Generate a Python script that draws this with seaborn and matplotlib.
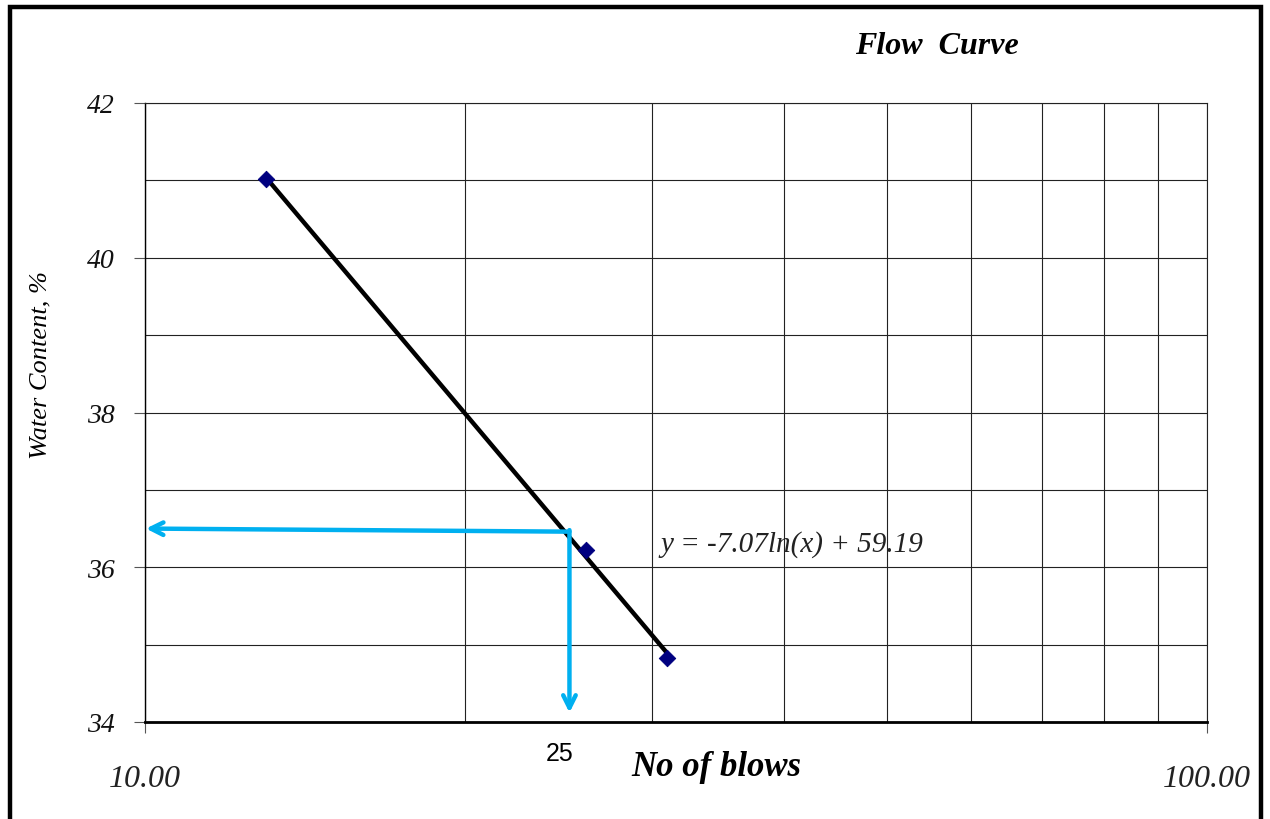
import numpy as np
import pandas as pd
import matplotlib
matplotlib.use("Agg")
import matplotlib.pyplot as plt
from matplotlib.ticker import FixedLocator, FuncFormatter, NullFormatter
from matplotlib.patches import Rectangle
import seaborn as sns

# ---- data ----
blows = [13.0, 26.0, 31.0]
water_content = [41.02, 36.22, 34.83]
x_major_ticks = [10, 100]
x_minor_ticks = [20, 30, 40, 50, 60, 70, 80, 90]
y_major_ticks = [34, 36, 38, 40, 42]
y_minor_ticks = [35, 37, 39, 41]
target_blows = 25
liquid_limit = 36.46
equation_text = "y = -7.07ln(x) + 59.19"

sns.set_style("white")
plt.rcParams['font.family'] = ['Liberation Serif', 'DejaVu Serif']
plt.rcParams['font.style'] = 'italic'
plt.rcParams['text.color'] = 'black'
plt.rcParams['xtick.color'] = 'black'
plt.rcParams['ytick.color'] = 'black'

df = pd.DataFrame({"blows": blows, "wc": water_content})

fig = plt.figure(figsize=(12.7, 8.2), dpi=100)
ax = fig.add_axes([145/1270, 1-723/820, (1207-145)/1270, (723-104)/820])

sns.regplot(data=df, x="blows", y="wc", logx=True, ci=None, truncate=True,
            scatter=False, color="black", line_kws=dict(lw=3.2, solid_capstyle="butt"), ax=ax)
sns.scatterplot(data=df, x="blows", y="wc", marker="D", s=70, color="#000080",
                edgecolor="#000080", zorder=5, ax=ax)

ax.set_xscale("log")
ax.set_xlim(10, 100)
ax.set_ylim(34, 42)

ax.xaxis.set_major_locator(FixedLocator(x_major_ticks))
ax.xaxis.set_minor_locator(FixedLocator(x_minor_ticks))
ax.xaxis.set_major_formatter(FuncFormatter(lambda v, p: f"{v:.2f}"))
ax.xaxis.set_minor_formatter(NullFormatter())
ax.yaxis.set_major_locator(FixedLocator(y_major_ticks))
ax.yaxis.set_minor_locator(FixedLocator(y_minor_ticks))

ax.grid(True, which="both", color="#222222", lw=0.8)
ax.set_axisbelow(True)
ax.tick_params(axis="x", which="major", bottom=True, length=8, width=0.8, color="#555555",
               pad=22, labelsize=23, labelcolor="#222222")
ax.tick_params(axis="x", which="minor", bottom=False, length=0)
ax.tick_params(axis="y", which="major", left=True, length=8, width=0.8, color="#555555",
               pad=14, labelsize=20, labelcolor="#111111")
ax.tick_params(axis="y", which="minor", left=False, length=0)

for s in ["top", "right"]:
    ax.spines[s].set_color("#222222")
    ax.spines[s].set_linewidth(0.8)
ax.spines["left"].set_color("black")
ax.spines["left"].set_linewidth(1.0)
ax.spines["bottom"].set_color("black")
ax.spines["bottom"].set_linewidth(2.0)

ax.set_xlabel("")
ax.set_ylabel("")

# arrows
cyan = "#00B0F0"
ax.annotate("", xy=(10.02, liquid_limit + 0.04), xytext=(target_blows + 0.1, liquid_limit),
            arrowprops=dict(arrowstyle="->,head_length=0.9,head_width=0.45", lw=3.2, color=cyan,
                            shrinkA=0, shrinkB=0), zorder=6)
ax.annotate("", xy=(target_blows + 0.1, 34.12), xytext=(target_blows + 0.1, liquid_limit + 0.02),
            arrowprops=dict(arrowstyle="->,head_length=0.9,head_width=0.45", lw=3.2, color=cyan,
                            shrinkA=0, shrinkB=0), zorder=6)

ax.annotate(equation_text, xy=(660/1270, 1-545/820), xycoords="figure fraction",
            ha="left", va="center", fontsize=21, fontstyle="italic", color="#222222")

fig.text(560/1270, 1-754/820, str(target_blows), ha="center", va="center",
         fontsize=18, fontstyle="normal", family=["Liberation Sans", "DejaVu Sans"])
fig.text(716/1270, 1-768/820, "No of blows", ha="center", va="center",
         fontsize=25, fontweight="bold", fontstyle="italic")
fig.text(937/1270, 1-46/820, "Flow  Curve", ha="center", va="center",
         fontsize=23, fontweight="bold", fontstyle="italic")
fig.text(40/1270, 1-365/820, "Water Content, %", rotation=90, ha="center", va="center",
         fontsize=19, fontstyle="italic")

# figure border
fig.patches.append(Rectangle((9.5/1270, -0.1), (1261 - 9.5)/1270, 1.1 - 8/820,
                             transform=fig.transFigure, fill=False, edgecolor="black",
                             lw=3.2, clip_on=False))

fig.savefig("out.png", dpi=100)
